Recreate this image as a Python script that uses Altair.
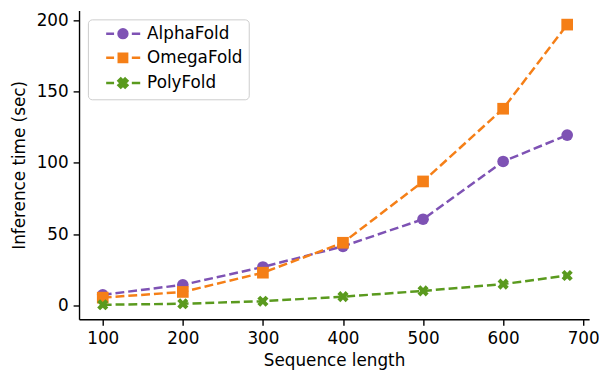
import altair as alt
import pandas as pd

lengths = [100, 200, 300, 400, 500, 600, 680]
alphafold = [7.5, 14.5, 27, 41.5, 60.5, 101, 119.5]
omegafold = [5.5, 9.5, 23, 44, 87, 138, 197]
polyfold = [0.5, 1.2, 3, 6.2, 10.2, 15, 21]
models = ["AlphaFold", "OmegaFold", "PolyFold"]
colors = ["#7E52B4", "#F57F17", "#5A9A1E"]
x_ticks = [100, 200, 300, 400, 500, 600, 700]
y_ticks = [0, 50, 100, 150, 200]

rows = []
for name, vals in zip(models, [alphafold, omegafold, polyfold]):
    for L, v in zip(lengths, vals):
        rows.append({"model": name, "length": L, "time": v})
df = pd.DataFrame(rows)

X_PATH = ("M0.46,-0.955L0.955,-0.46L0.495,0L0.955,0.46L0.46,0.955L0,0.495"
          "L-0.46,0.955L-0.955,0.46L-0.495,0L-0.955,-0.46L-0.46,-0.955L0,-0.495Z")
shapes = ["circle", "square", X_PATH]

LINE = "M-3.4,0L-1.8,0M1.8,0L3.5,0"
leg_circle = LINE + "M0.9,0A0.9,0.9,0,1,1,-0.9,0A0.9,0.9,0,1,1,0.9,0Z"
leg_square = LINE + "M-0.85,-0.85L0.85,-0.85L0.85,0.85L-0.85,0.85Z"
leg_x = LINE + ("M0.44,-0.91L0.91,-0.44L0.47,0L0.91,0.44L0.44,0.91L0,0.47L-0.44,0.91"
                "L-0.91,0.44L-0.47,0L-0.91,-0.44L-0.44,-0.91L0,-0.47Z")
legend_shapes = [leg_circle, leg_square, leg_x]

x_enc = alt.X("length:Q", title="Sequence length",
              scale=alt.Scale(domain=[70.4, 707.4], nice=False, zero=False),
              axis=alt.Axis(values=x_ticks, grid=False))
y_enc = alt.Y("time:Q", title="Inference time (sec)",
              scale=alt.Scale(domain=[-9.7, 206.9], nice=False, zero=False),
              axis=alt.Axis(values=y_ticks, grid=False, titlePadding=8))


def make_legend():
    return alt.Legend(
        title=None, orient="none", legendX=9, legendY=9,
        symbolSize=100, symbolStrokeWidth=2.5, symbolOpacity=1,
        labelFontSize=17, labelFont="DejaVu Sans", labelColor="black",
        symbolOffset=21, labelOffset=16, rowPadding=5.5, padding=6,
        fillColor="white", strokeColor="#cccccc", cornerRadius=4,
    )


layers = []
for name, shp, col in zip(models, shapes, colors):
    base = alt.Chart(df).transform_filter(alt.datum.model == name)
    layers.append(base.mark_line(strokeDash=[9, 4], strokeWidth=2.5, color=col)
                  .encode(x=x_enc, y=y_enc))
    layers.append(base.mark_point(filled=True, opacity=1, size=140, shape=shp, color=col)
                  .encode(x=x_enc, y=y_enc))

legend_layer = alt.Chart(df).transform_filter("false").mark_point(
    filled=True, opacity=1, strokeWidth=2.5
).encode(
    x=x_enc, y=y_enc,
    fill=alt.Fill("model:N", scale=alt.Scale(domain=models, range=colors), legend=make_legend()),
    stroke=alt.Stroke("model:N", scale=alt.Scale(domain=models, range=colors), legend=make_legend()),
    shape=alt.Shape("model:N", scale=alt.Scale(domain=models, range=legend_shapes), legend=make_legend()),
)

chart = alt.layer(*layers, legend_layer).properties(
    width=517, height=313,
    autosize=alt.AutoSizeParams(type="none"),
    padding={"left": 72, "top": 0, "right": 10, "bottom": 60},
).configure_view(stroke=None).configure_axis(
    domainColor="black", domainWidth=1.4, tickColor="black", tickWidth=1.4,
    tickSize=6, labelPadding=5, labelFontSize=17, labelFont="DejaVu Sans",
    labelColor="black", titleFontSize=17, titleFont="DejaVu Sans",
    titleColor="black", titleFontWeight="normal",
).configure_axisX(labelPadding=6, titlePadding=6)

chart.save("out.html", embed_options={"renderer": "svg", "actions": False})
